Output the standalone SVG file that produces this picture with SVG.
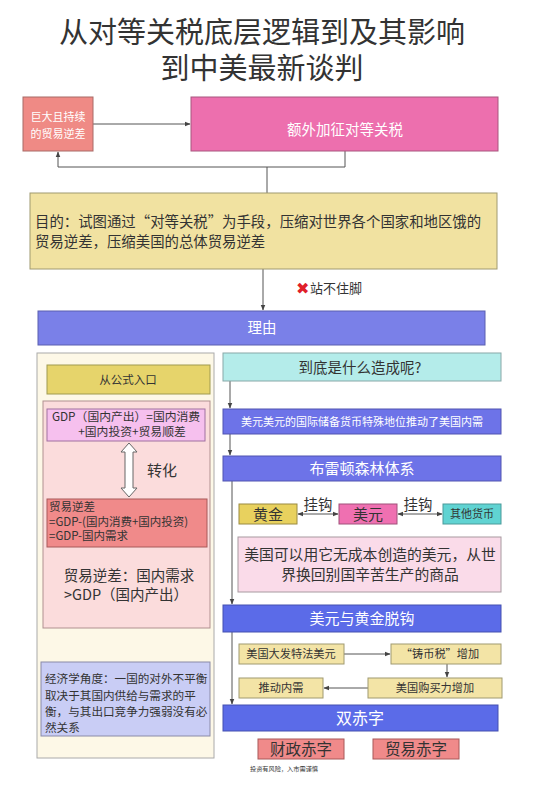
<svg xmlns="http://www.w3.org/2000/svg" width="540" height="788" viewBox="0 0 540 788">
<defs>
<marker id="ah" viewBox="0 0 10 10" refX="9" refY="5" markerWidth="6" markerHeight="6" orient="auto-start-reverse" markerUnits="userSpaceOnUse"><path d="M0,1 L10,5 L0,9 z" fill="#444"/></marker>
<style>
text{font-family:"Noto Sans CJK SC","Noto Sans",sans-serif;}
.c{text-anchor:middle;}
.w{fill:#ffffff;}
.d{fill:#333333;}
.ln{fill:none;stroke:#555;stroke-width:1;}
.bx{stroke-width:1;}
</style>
</defs>
<rect width="540" height="788" fill="#ffffff"/>
<g id="title">
<text class="c d" x="262" y="43" font-size="29">从对等关税底层逻辑到及其影响</text>
<text class="c d" x="262" y="79" font-size="29">到中美最新谈判</text>
</g>
<g id="connectors">
<line class="ln" x1="93" y1="124" x2="190" y2="124" marker-end="url(#ah)"/>
<polyline class="ln" points="345,151 345,167 58,167 58,152" marker-end="url(#ah)"/>
<line class="ln" x1="267" y1="167" x2="267" y2="193"/>
<line class="ln" x1="263" y1="269" x2="263" y2="310" marker-end="url(#ah)"/>
<line class="ln" x1="125" y1="628" x2="125" y2="661" marker-end="url(#ah)"/>
<line class="ln" x1="230" y1="381" x2="230" y2="408" marker-end="url(#ah)"/>
<line class="ln" x1="230" y1="434" x2="230" y2="455" marker-end="url(#ah)"/>
<line class="ln" x1="232" y1="481" x2="232" y2="604" marker-end="url(#ah)"/>
<line class="ln" x1="232" y1="632" x2="232" y2="704" marker-end="url(#ah)"/>
<line class="ln" x1="298" y1="514" x2="338" y2="514" marker-start="url(#ah)" marker-end="url(#ah)"/>
<line class="ln" x1="398" y1="514" x2="442" y2="514" marker-start="url(#ah)" marker-end="url(#ah)"/>
<line class="ln" x1="344" y1="654" x2="390" y2="654" marker-end="url(#ah)"/>
<line class="ln" x1="447" y1="664" x2="447" y2="677" marker-end="url(#ah)"/>
<line class="ln" x1="368" y1="688" x2="324" y2="688" marker-end="url(#ah)"/>
</g>
<g id="trade-deficit">
<rect class="bx" x="23" y="97" width="70" height="54" fill="#ef8a85" stroke="#a86a66"/>
<text class="c w" x="58" y="121" font-size="11">巨大且持续</text>
<text class="c w" x="58" y="138" font-size="11">的贸易逆差</text>
</g>
<g id="tariff">
<rect class="bx" x="191" y="97" width="307" height="54" fill="#ed6fae" stroke="#a8567e"/>
<text class="c w" x="345" y="135" font-size="14.5">额外加征对等关税</text>
</g>
<g id="purpose">
<rect class="bx" x="30" y="193" width="467" height="76" fill="#f1e2a1" stroke="#a09a70"/>
<text class="d" x="35" y="227" font-size="14.4">目的：试图通过“对等关税”为手段，压缩对世界各个国家和地区饿的</text>
<text class="d" x="35" y="247" font-size="14.4">贸易逆差，压缩美国的总体贸易逆差</text>
</g>
<g id="not-valid">
<text x="296" y="294" font-size="16" fill="#e0202a" style="font-family:'DejaVu Sans',sans-serif">✖</text>
<text class="d" x="310" y="293" font-size="13">站不住脚</text>
</g>
<g id="reason">
<rect class="bx" x="38" y="311" width="447" height="34" fill="#7a80e8" stroke="#5a5fb0"/>
<text class="c w" x="262" y="333" font-size="14.5">理由</text>
</g>
<g id="left-panel">
<rect class="bx" x="37" y="353" width="177" height="405" fill="#fdf8e7" stroke="#aaaaaa"/>
</g>
<g id="formula-entry">
<rect class="bx" x="47" y="365" width="163" height="29" fill="#e6d46b" stroke="#a09a50"/>
<text class="c d" x="128" y="384" font-size="11.5">从公式入口</text>
</g>
<g id="formula-region">
<rect class="bx" x="43" y="401" width="167" height="227" fill="#fbdcdc" stroke="#b09090"/>
</g>
<g id="gdp">
<rect class="bx" x="47" y="409" width="158" height="32" fill="#f6c0ee" stroke="#a070a0"/>
<text class="c d" x="126" y="421" font-size="11.8">GDP（国内产出）=国内消费</text>
<text class="c d" x="132" y="436" font-size="11.8">+国内投资+贸易顺差</text>
</g>
<g id="convert">
<path d="M129,443 L137,452 L133,452 L133,488 L137,488 L129,497 L121,488 L125,488 L125,452 L121,452 Z" fill="#ffffff" stroke="#666" stroke-width="1"/>
<text class="d" x="147" y="476" font-size="15">转化</text>
</g>
<g id="deficit-formula">
<rect class="bx" x="47" y="499" width="160" height="48" fill="#f08a8a" stroke="#a85858"/>
<text class="d" x="49" y="511" font-size="11.5">贸易逆差</text>
<text class="d" x="49" y="526" font-size="11.5">=GDP-(国内消费+国内投资)</text>
<text class="d" x="49" y="540" font-size="11.5">=GDP-国内需求</text>
</g>
<g id="deficit-meaning">
<text class="c d" x="129" y="581" font-size="14.5">贸易逆差：国内需求</text>
<text class="c d" x="126" y="600" font-size="14.5">&gt;GDP（国内产出）</text>
</g>
<g id="economics">
<rect class="bx" x="41" y="662" width="169" height="74" fill="#c9cdf5" stroke="#8a8aa8"/>
<text class="d" x="45" y="683" font-size="11.6">经济学角度：一国的对外不平衡</text>
<text class="d" x="45" y="700" font-size="11.6">取决于其国内供给与需求的平</text>
<text class="d" x="45" y="716" font-size="11.6">衡，与其出口竞争力强弱没有必</text>
<text class="d" x="45" y="732" font-size="11.6">然关系</text>
</g>
<g id="question">
<rect class="bx" x="223" y="353" width="278" height="28" fill="#b4ecea" stroke="#88a8a8"/>
<text class="c d" x="360" y="373" font-size="14.5">到底是什么造成呢?</text>
</g>
<g id="reserve">
<rect class="bx" x="223" y="409" width="278" height="25" fill="#6d73e8" stroke="#5055b0"/>
<text class="c w" x="362" y="426" font-size="11">美元美元的国际储备货币特殊地位推动了美国内需</text>
</g>
<g id="bretton">
<rect class="bx" x="223" y="456" width="278" height="25" fill="#6d73e8" stroke="#5055b0"/>
<text class="c w" x="362" y="474" font-size="15">布雷顿森林体系</text>
</g>
<g id="gold">
<rect class="bx" x="239" y="504" width="58" height="20" fill="#e8d15e" stroke="#9a8a40"/>
<text class="c d" x="268" y="520" font-size="15">黄金</text>
</g>
<g id="peg-labels">
<text class="c d" x="318" y="510" font-size="14.5">挂钩</text>
<text class="c d" x="418" y="510" font-size="14.5">挂钩</text>
</g>
<g id="usd">
<rect class="bx" x="339" y="504" width="58" height="20" fill="#ef70b1" stroke="#a0507a"/>
<text class="c d" x="368" y="520" font-size="15">美元</text>
</g>
<g id="other-currency">
<rect class="bx" x="443" y="504" width="58" height="20" fill="#60d3d2" stroke="#4a9a9a"/>
<text class="c d" x="472" y="518" font-size="11">其他货币</text>
</g>
<g id="usd-exchange">
<rect class="bx" x="238" y="537" width="263" height="55" fill="#fadbe9" stroke="#a89aa0"/>
<text class="c d" x="370" y="560" font-size="14.8">美国可以用它无成本创造的美元，从世</text>
<text class="c d" x="370" y="580" font-size="14.8">界换回别国辛苦生产的商品</text>
</g>
<g id="decouple">
<rect class="bx" x="223" y="605" width="278" height="27" fill="#5b6be8" stroke="#4450b0"/>
<text class="c w" x="362" y="624" font-size="15">美元与黄金脱钩</text>
</g>
<g id="print-money">
<rect class="bx" x="239" y="644" width="105" height="20" fill="#f3e4a6" stroke="#a09a70"/>
<text class="c d" x="291" y="658" font-size="11.2">美国大发特法美元</text>
</g>
<g id="seigniorage">
<rect class="bx" x="391" y="644" width="110" height="20" fill="#f3e4a6" stroke="#a09a70"/>
<text class="c d" x="440" y="658" font-size="11.2">“铸币税”增加</text>
</g>
<g id="purchasing">
<rect class="bx" x="368" y="678" width="134" height="20" fill="#f3e4a6" stroke="#a09a70"/>
<text class="c d" x="435" y="692" font-size="11.2">美国购买力增加</text>
</g>
<g id="demand">
<rect class="bx" x="239" y="678" width="84" height="20" fill="#f3e4a6" stroke="#a09a70"/>
<text class="c d" x="281" y="692" font-size="11.2">推动内需</text>
</g>
<g id="twin-deficit">
<rect class="bx" x="223" y="705" width="275" height="26" fill="#5b6be8" stroke="#4450b0"/>
<text class="c w" x="360" y="724" font-size="16">双赤字</text>
</g>
<g id="fiscal">
<rect class="bx" x="258" y="739" width="86" height="20" fill="#f08a8a" stroke="#a85858"/>
<text class="c d" x="301" y="755" font-size="15.5">财政赤字</text>
</g>
<g id="trade">
<rect class="bx" x="373" y="739" width="86" height="20" fill="#f08a8a" stroke="#a85858"/>
<text class="c d" x="416" y="755" font-size="15.5">贸易赤字</text>
</g>
<g id="footer">
<text class="c d" x="284" y="771" font-size="6.2">投资有风险，入市需谨慎</text>
</g>
</svg>
